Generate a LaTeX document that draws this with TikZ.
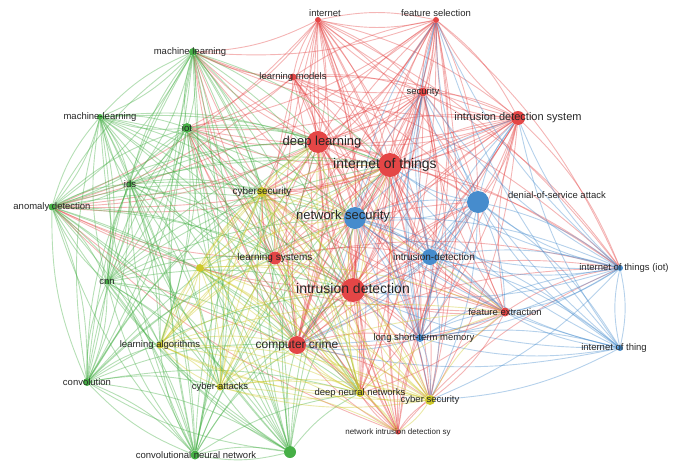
\documentclass[tikz,border=0pt]{standalone}
\usepackage{fontspec}
\setmainfont{Liberation Sans}
\usetikzlibrary{backgrounds}
\definecolor{vred}{RGB}{228,70,70}
\definecolor{vblue}{RGB}{70,140,205}
\definecolor{vgreen}{RGB}{70,175,70}
\definecolor{vyellow}{RGB}{205,200,40}
\tikzset{
  kw/.style={circle,fill=#1,inner sep=0pt},
  lbl/.style={font=\fontsize{9.5}{10}\selectfont,text=black!85,inner sep=1pt},
  big/.style={font=\fontsize{13}{14}\selectfont,text=black!85,inner sep=1pt},
  link/.style={draw=#1,opacity=.4,line width=.9pt,bend left=12}
}
\begin{document}
\begin{tikzpicture}[x=1pt,y=-1pt]
\useasboundingbox (0,0) rectangle (685,474);
% red cluster
\node[kw=vred,minimum size=6pt] (internet) at (318,20) {};
\node[lbl] at (325,13) {internet};
\node[kw=vred,minimum size=6pt] (fsel) at (436,20) {};
\node[lbl] at (436,13) {feature selection};
\node[kw=vred,minimum size=7pt] (lmodels) at (293,77) {};
\node[lbl] at (293,77) {learning models};
\node[kw=vred,minimum size=9pt] (security) at (423,92) {};
\node[lbl] at (423,92) {security};
\node[kw=vred,minimum size=14pt] (ids2) at (518,118) {};
\node[lbl,font=\fontsize{11}{12}\selectfont] at (518,118) {intrusion detection system};
\node[kw=vred,minimum size=22pt] (dl) at (318,142) {};
\node[big] at (322,142) {deep learning};
\node[kw=vred,minimum size=24pt] (iot1) at (390,165) {};
\node[big,font=\fontsize{14}{15}\selectfont] at (385,165) {internet of things};
\node[kw=vred,minimum size=13pt] (lsys) at (275,258) {};
\node[lbl,font=\fontsize{10}{11}\selectfont] at (275,258) {learning systems};
\node[kw=vred,minimum size=24pt] (intdet) at (353,290) {};
\node[big,font=\fontsize{14}{15}\selectfont] at (353,288) {intrusion detection};
\node[kw=vred,minimum size=18pt] (crime) at (297,345) {};
\node[lbl,font=\fontsize{12}{13}\selectfont] at (297,345) {computer crime};
\node[kw=vred,minimum size=9pt] (fext) at (505,312) {};
\node[lbl] at (505,312) {feature extraction};
\node[kw=vred,minimum size=5pt] (nids) at (398,432) {};
\node[lbl,font=\fontsize{8}{9}\selectfont] at (398,432) {network intrusion detection sy};
% blue cluster
\node[kw=vblue,minimum size=22pt] (dos) at (478,202) {};
\node[lbl] at (557,195) {denial-of-service attack};
\node[kw=vblue,minimum size=22pt] (netsec) at (355,218) {};
\node[big] at (343,216) {network security};
\node[kw=vblue,minimum size=16pt] (intdet2) at (430,257) {};
\node[lbl,font=\fontsize{10}{11}\selectfont] at (434,257) {intrusion-detection};
\node[kw=vblue,minimum size=6pt] (iotiot) at (620,268) {};
\node[lbl] at (624,268) {internet of things (iot)};
\node[kw=vblue,minimum size=6pt] (iotthing) at (620,348) {};
\node[lbl] at (614,348) {internet of thing};
\node[kw=vblue,minimum size=8pt] (lstm) at (420,338) {};
\node[lbl] at (424,338) {long short-term memory};
% green cluster
\node[kw=vgreen,minimum size=8pt] (ml) at (193,52) {};
\node[lbl] at (190,52) {machine learning};
\node[kw=vgreen,minimum size=6pt] (ml2) at (100,117) {};
\node[lbl] at (100,117) {machine-learning};
\node[kw=vgreen,minimum size=10pt] (iot3) at (187,128) {};
\node[lbl] at (187,128) {iot};
\node[kw=vgreen,minimum size=6pt] (idsg) at (130,184) {};
\node[lbl] at (130,184) {ids};
\node[kw=vgreen,minimum size=7pt] (anom) at (52,207) {};
\node[lbl] at (52,207) {anomaly detection};
\node[kw=vgreen,minimum size=5pt] (cnn) at (107,282) {};
\node[lbl] at (107,282) {cnn};
\node[kw=vgreen,minimum size=8pt] (conv) at (87,382) {};
\node[lbl] at (87,382) {convolution};
\node[kw=vgreen,minimum size=9pt] (cnnet) at (195,455) {};
\node[lbl] at (196,455) {convolutional neural network};
\node[kw=vgreen,minimum size=12pt] (gsmall) at (290,452) {};
% yellow cluster
\node[kw=vyellow,minimum size=10pt] (cysec) at (262,192) {};
\node[lbl,font=\fontsize{10}{11}\selectfont] at (262,192) {cybersecurity};
\node[kw=vyellow,minimum size=7pt] (lalg) at (160,345) {};
\node[lbl] at (160,345) {learning algorithms};
\node[kw=vyellow,minimum size=7pt] (cyatt) at (220,387) {};
\node[lbl] at (220,387) {cyber-attacks};
\node[kw=vyellow,minimum size=8pt] (dnn) at (360,393) {};
\node[lbl] at (360,393) {deep neural networks};
\node[kw=vyellow,minimum size=10pt] (cysec2) at (430,400) {};
\node[lbl] at (430,400) {cyber security};
\node[kw=vyellow,minimum size=8pt] (ysmall) at (200,268) {};
% links
\begin{scope}[on background layer]
\foreach \a in {internet,fsel,lmodels,security,ids2,dl,iot1,lsys,intdet,crime,fext,nids}
  \foreach \b in {internet,fsel,security,ids2,dl,iot1,intdet,crime,netsec,dos,intdet2,cysec,ml,iot3,lstm,cysec2,dnn,anom,iotiot}
    \path (\a) edge[link=vred] (\b);
\foreach \a in {dos,netsec,intdet2,iotiot,iotthing,lstm}
  \foreach \b in {dos,netsec,intdet2,iotiot,iotthing,lstm,fext,ids2,iot1,intdet,security,fsel,cysec2,crime}
    \path (\a) edge[link=vblue] (\b);
\foreach \a in {ml,ml2,iot3,idsg,anom,cnn,conv,cnnet,gsmall}
  \foreach \b in {ml,ml2,iot3,idsg,anom,cnn,conv,cnnet,gsmall,dl,iot1,intdet,crime,netsec,lsys,cysec,lalg,cyatt,dnn}
    \path (\a) edge[link=vgreen] (\b);
\foreach \a in {cysec,lalg,cyatt,dnn,cysec2,ysmall}
  \foreach \b in {cysec,lalg,cyatt,dnn,cysec2,ysmall,intdet,crime,netsec,dl,lsys,iot1,fext,nids}
    \path (\a) edge[link=vyellow] (\b);
\end{scope}
\end{tikzpicture}
\end{document}
